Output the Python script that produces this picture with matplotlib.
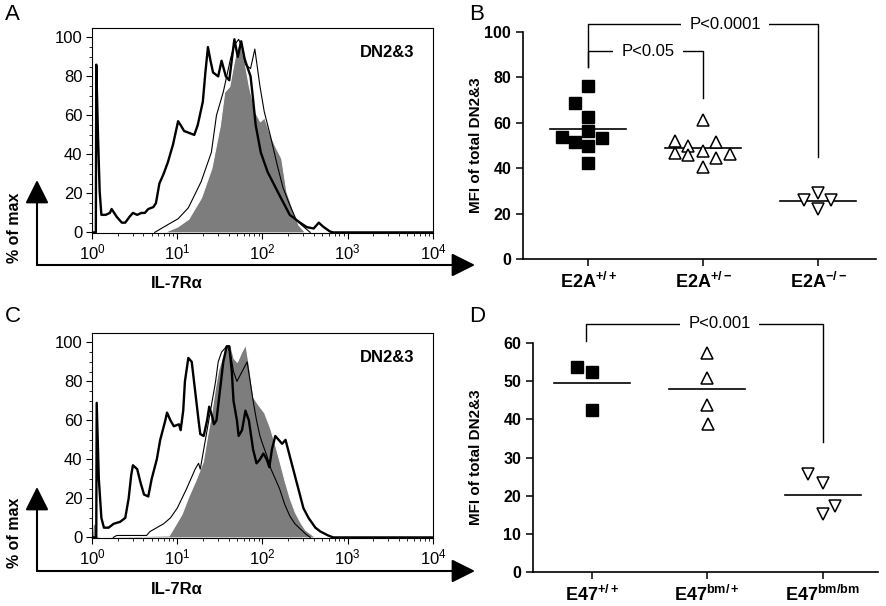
import numpy as np
import matplotlib
matplotlib.use("Agg")
import matplotlib.pyplot as plt
from matplotlib.patches import FancyArrowPatch
from matplotlib.ticker import MultipleLocator

plt.rcParams["font.family"] = ["Liberation Sans", "DejaVu Sans"]
plt.rcParams["mathtext.fontset"] = "custom"
plt.rcParams["mathtext.rm"] = "Liberation Sans"
plt.rcParams["mathtext.bf"] = "Liberation Sans:bold"
plt.rcParams["mathtext.it"] = "Liberation Sans:italic"

# ---- histogram data (log10 of IL-7Ra intensity, % of max) ----
a_thick_log = [0.0, 0.045, 0.05, 0.07, 0.09, 0.11, 0.16, 0.21, 0.23, 0.29, 0.35, 0.39, 0.44, 0.48, 0.53,
               0.58, 0.62, 0.66, 0.72, 0.75, 0.79, 0.84, 0.89, 0.95, 1.01, 1.04, 1.08, 1.14, 1.20, 1.24,
               1.30, 1.33, 1.36, 1.39, 1.42, 1.48, 1.52, 1.57, 1.61, 1.67, 1.71, 1.75, 1.79, 1.86, 1.89,
               1.92, 1.98, 2.06, 2.13, 2.2, 2.26, 2.32, 2.44, 2.52, 2.6, 2.66, 2.71, 2.79, 2.83, 4.0]
a_thick_y = [0, 0, 86, 50, 21, 9, 9, 10, 12, 8, 5, 5, 8, 10, 9,
             10, 10, 12, 13, 15, 25, 30, 36, 45, 57, 55, 52, 51, 50, 55,
             67, 82, 95, 88, 82, 80, 88, 80, 78, 99, 90, 98, 89, 80, 68,
             55, 41, 31, 25, 19, 14, 9, 5, 2.7, 2, 5, 3, 0.5, 0, 0]
a_thin_log = [0.735, 0.89, 1.01, 1.13, 1.28, 1.40, 1.46, 1.54, 1.58, 1.63, 1.67, 1.72, 1.76, 1.80, 1.86,
              1.91, 1.97, 2.02, 2.09, 2.17, 2.24, 2.32, 2.40, 2.48, 2.56]
a_thin_y = [0, 4, 7, 12.6, 26, 41, 60, 72, 80, 90, 96, 99, 95, 86, 84,
            94, 75, 62, 50, 35, 23, 14, 6, 3, 0]
a_gray_log = [0.85, 0.89, 1.0, 1.13, 1.28, 1.40, 1.50, 1.55, 1.61, 1.67, 1.73, 1.79, 1.84, 1.91, 1.97,
              2.02, 2.09, 2.15, 2.22, 2.28, 2.36, 2.42, 2.50]
a_gray_y = [0, 1, 3, 7, 18, 33, 55, 72, 75, 89, 99, 87, 75, 62, 57,
            59, 50, 44, 38, 21, 11, 4, 0]

c_thick_log = [0.0, 0.05, 0.055, 0.08, 0.11, 0.14, 0.195, 0.254, 0.33, 0.39, 0.43, 0.46, 0.48, 0.53, 0.57,
               0.61, 0.66, 0.70, 0.76, 0.80, 0.86, 0.88, 0.92, 0.96, 1.02, 1.04, 1.07, 1.09, 1.13, 1.17,
               1.21, 1.25, 1.27, 1.31, 1.35, 1.375, 1.41, 1.43, 1.46, 1.50, 1.54, 1.58, 1.61, 1.64, 1.66,
               1.70, 1.72, 1.76, 1.80, 1.84, 1.89, 1.93, 1.97, 2.01, 2.05, 2.08, 2.11, 2.15, 2.19, 2.23,
               2.27, 2.30, 2.36, 2.42, 2.48, 2.54, 2.62, 2.68, 2.77, 2.83, 4.0]
c_thick_y = [0, 0, 69, 30, 10, 5, 5, 7, 8, 10, 20, 32, 37, 35, 28,
             22, 21, 30, 40, 50, 60, 64, 60, 57, 58, 55, 65, 80, 92, 90,
             75, 60, 53, 52, 60, 67, 62, 58, 60, 75, 90, 98, 98, 85, 70,
             60, 52, 55, 65, 60, 45, 38, 40, 43, 40, 36, 45, 52, 50, 48,
             50, 45, 35, 25, 15, 10, 5, 3, 1, 0, 0]
c_thin_log = [0.25, 0.29, 0.64, 0.68, 0.76, 0.84, 0.92, 1.0, 1.11, 1.21, 1.25, 1.27, 1.31, 1.35, 1.39,
              1.45, 1.48, 1.52, 1.58, 1.62, 1.66, 1.70, 1.76, 1.82, 1.855, 1.89, 1.93, 1.97, 2.0, 2.05,
              2.10, 2.15, 2.2, 2.26, 2.32, 2.38, 2.44, 2.50, 2.56]
c_thin_y = [0, 1, 1, 3, 5, 7, 10, 15, 25, 35, 38, 35, 45, 55, 65,
            80, 90, 95, 98, 95, 85, 80, 85, 90, 80, 70, 60, 52, 48, 42,
            35, 30, 25, 17, 11, 7, 4.5, 2, 0]
c_gray_log = [0.0, 0.01, 0.04, 0.05, 0.1, 0.9, 0.95, 1.05, 1.13, 1.22, 1.30, 1.35, 1.40, 1.44, 1.48,
              1.53, 1.58, 1.62, 1.66, 1.70, 1.75, 1.80, 1.84, 1.89, 1.95, 2.02, 2.09, 2.15, 2.2, 2.26,
              2.32, 2.38, 2.44, 2.50, 2.56, 2.62]
c_gray_y = [0, 7, 7, 1, 0.5, 1, 4.6, 12, 21, 30, 39, 52, 64, 76, 86,
            93, 97, 99, 92, 90, 95, 99, 88, 72, 68, 64, 56, 47, 39, 29,
            20, 13, 8, 4, 2, 0]

# ---- MFI scatter data ----
b_labels = [r"$\mathbf{E2A^{+/+}}$", r"$\mathbf{E2A^{+/-}}$", r"$\mathbf{E2A^{-/-}}$"]
b_wt = [76.2, 68.9, 62.6, 56.2, 53.6, 51.4, 53.1, 49.9, 42.3]
b_wt_dx = [0, -0.115, 0, 0, -0.23, -0.115, 0.125, 0, 0]
b_het = [61.2, 52.1, 49.9, 51.7, 46.7, 46.0, 47.4, 44.4, 46.3, 40.4]
b_het_dx = [0, -0.245, -0.13, 0.11, -0.245, -0.13, 0, 0.115, 0.23, 0]
b_ko = [26.1, 29.0, 25.8, 22.2]
b_ko_dx = [-0.125, 0, 0.11, 0]
b_means = [57.4, 49.1, 25.5]

d_labels = [r"$\mathbf{E47^{+/+}}$", r"$\mathbf{E47^{bm/+}}$", r"$\mathbf{E47^{bm/bm}}$"]
d_wt = [53.7, 52.5, 42.4]
d_wt_dx = [-0.125, 0, 0]
d_het = [57.4, 50.7, 43.8, 38.7]
d_het_dx = [0, 0, 0, 0.01]
d_mut = [25.8, 23.3, 15.3, 17.2]
d_mut_dx = [-0.13, 0, 0, 0.11]
d_means = [49.6, 47.9, 20.1]

W, H = 887, 606
fig = plt.figure(figsize=(W / 100, H / 100), dpi=100)


def fx(x):
    return x / W


def fy(y):
    return 1 - y / H


def hist_panel(rect, thick_log, thick_y, thin_log, thin_y, gray_log, gray_y):
    ax = fig.add_axes(rect)
    gx = 10 ** np.array(gray_log)
    ax.fill_between(gx, 0, gray_y, color="#7d7d7d", edgecolor="white", lw=0.8, zorder=2)
    ax.plot(10 ** np.array(thin_log), thin_y, color="black", lw=0.8, zorder=3)
    ax.plot(10 ** np.array(thick_log), thick_y, color="black", lw=1.7, zorder=4)
    ax.set_xscale("log")
    ax.set_xlim(1, 1e4)
    ax.set_ylim(-0.3, 104.8)
    ax.set_yticks([0, 20, 40, 60, 80, 100])
    ax.yaxis.set_minor_locator(MultipleLocator(5))
    ax.tick_params(direction="out", labelsize=12, length=4, width=0.8, pad=3)
    ax.tick_params(which="minor", direction="out", length=2.5, width=0.6)
    for s in ax.spines.values():
        s.set_linewidth(0.8)
    ax.text(0.865, 0.88, "DN2&3", transform=ax.transAxes, ha="center", va="center",
            fontsize=12, fontweight="bold")
    return ax


def big_arrows(y0, ytop, label_y, lab_y):
    for end in [(fx(37), fy(ytop)), (fx(475), fy(y0))]:
        fig.add_artist(FancyArrowPatch((fx(37), fy(y0)), end, transform=fig.transFigure,
                                       arrowstyle="-|>,head_length=0.9,head_width=0.45",
                                       mutation_scale=16, lw=1.5, color="black",
                                       shrinkA=0, shrinkB=0))
    fig.text(fx(15), fy(label_y), "% of max", rotation=90, ha="center", va="center",
             fontsize=11.5, fontweight="bold")
    fig.text(fx(177), fy(lab_y), "IL-7R\u03b1", ha="center", va="center",
             fontsize=12, fontweight="bold")


def scatter_panel(rect, xlim, ymax, ystep, labels, groups, means):
    ax = fig.add_axes(rect)
    markers = [dict(marker="s", mfc="black", mec="black", ms=8.3),
               dict(marker="^", mfc="white", mec="black", ms=8, mew=1.1),
               dict(marker="v", mfc="white", mec="black", ms=8, mew=1.1)]
    for i, (vals, dx) in enumerate(groups):
        ax.plot(i + np.array(dx), vals, ls="none", clip_on=False, zorder=3, **markers[i])
        ax.plot([i - 0.33, i + 0.33], [means[i], means[i]], color="black", lw=1.2, zorder=2)
    ax.set_xlim(*xlim)
    ax.set_ylim(0, ymax)
    ax.set_yticks(np.arange(0, ymax + 1, ystep))
    ax.set_xticks([0, 1, 2])
    ax.set_xticklabels(labels)
    for t in ax.get_yticklabels():
        t.set_fontweight("bold")
    ax.tick_params(direction="out", labelsize=11.5, length=5, width=1.1)
    ax.tick_params(axis="x", labelsize=13, pad=4)
    ax.spines["top"].set_visible(False)
    ax.spines["right"].set_visible(False)
    ax.spines["left"].set_linewidth(1.2)
    ax.spines["bottom"].set_linewidth(1.2)
    return ax


def bracket(ax, x0, x1, y, y0, y1, text, tx):
    kw = dict(color="black", lw=1.0, clip_on=False)
    ax.plot([x0, x0, x1, x1], [y0, y, y, y1], **kw)
    ax.text(tx, y, text, ha="center", va="center", fontsize=12,
            bbox=dict(fc="white", ec="none", pad=6), clip_on=False, zorder=5)


# Panel A
hist_panel([fx(92), fy(233), fx(433) - fx(92), fy(28) - fy(233)],
           a_thick_log, a_thick_y, a_thin_log, a_thin_y, a_gray_log, a_gray_y)
big_arrows(265, 180, 228, 283)

# Panel C
hist_panel([fx(92), fy(538), fx(433) - fx(92), fy(333) - fy(538)],
           c_thick_log, c_thick_y, c_thin_log, c_thin_y, c_gray_log, c_gray_y)
big_arrows(571, 487, 533, 590)

# Panel B
axb = scatter_panel([fx(523), fy(259), fx(876) - fx(523), fy(32) - fy(259)], (-0.565, 2.5), 100, 20,
                    b_labels, [(b_wt, b_wt_dx), (b_het, b_het_dx), (b_ko, b_ko_dx)], b_means)
bracket(axb, 0, 2, 103.5, 84.7, 44.8, "P<0.0001", 1.19)
bracket(axb, 0, 1, 91.5, 84.7, 71.1, "P<0.05", 0.52)
axb.set_ylabel("MFI of total DN2&3", fontsize=11, fontweight="bold")
axb.yaxis.set_label_coords((483 - 523) / 353, 0.5)

# Panel D
axd = scatter_panel([fx(533), fy(572), fx(878) - fx(533), fy(343) - fy(572)], (-0.51, 2.48), 60, 10,
                    d_labels, [(d_wt, d_wt_dx), (d_het, d_het_dx), (d_mut, d_mut_dx)], d_means)
bracket(axd, -0.05, 2.0, 65.1, 60.4, 34.1, "P<0.001", 1.11)
axd.set_ylabel("MFI of total DN2&3", fontsize=11, fontweight="bold")
axd.yaxis.set_label_coords((483 - 533) / 345, 0.5)

# panel letters
for lab, x, y in [("A", 5, 15), ("B", 469, 15), ("C", 5, 317), ("D", 469, 317)]:
    fig.text(fx(x), fy(y), lab, ha="left", va="center", fontsize=16)

fig.savefig("out.png", dpi=100)
